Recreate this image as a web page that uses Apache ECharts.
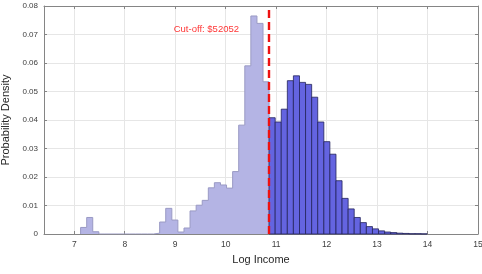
<!DOCTYPE html>
<html>
<head>
<meta charset="utf-8">
<script src="https://cdn.jsdelivr.net/npm/echarts@6/dist/echarts.min.js"></script>
<style>
  html, body { margin: 0; padding: 0; background: #fff; }
  #chart { width: 482px; height: 274px; }
</style>
</head>
<body>
<div id="chart"></div>
<script>
// x tick values
var xTicks = [7, 8, 9, 10, 11, 12, 13, 14, 15];

// cut-off (log of $52052)
var cutoff = 10.86;
var cutoffText = "Cut-off: $52052";
var cutoffTextPos = [8.97, 0.0719];

// below cut-off: bin left edges and densities
var lowEdges = [7.125, 7.246, 7.366, 7.487, 7.607, 7.728, 7.848, 7.969, 8.089, 8.210,
  8.330, 8.451, 8.571, 8.692, 8.812, 8.933, 9.053, 9.174, 9.294, 9.415,
  9.535, 9.656, 9.776, 9.897, 10.017, 10.138, 10.258, 10.379, 10.499, 10.620,
  10.740];
var lowEnd = 10.86;
var lowDensity = [0.0023, 0.0058, 0.0008, 0, 0, 0, 0, 0, 0, 0,
  0, 0, 0.0003, 0.0042, 0.009, 0.0049, 0.0007, 0.0021, 0.0081, 0.0101,
  0.0118, 0.0162, 0.018, 0.0172, 0.0161, 0.0219, 0.0382, 0.059, 0.0765, 0.0739,
  0.0534];

// above cut-off: bin left edges and densities
var highEdges = [10.860, 10.981, 11.101, 11.222, 11.342, 11.463, 11.583, 11.704, 11.824, 11.945,
  12.065, 12.186, 12.306, 12.427, 12.547, 12.668, 12.788, 12.909, 13.029, 13.150,
  13.270, 13.391, 13.511, 13.632, 13.752, 13.873];
var highEnd = 13.993;
var highDensity = [0.0408, 0.0393, 0.0438, 0.0538, 0.0555, 0.0532, 0.0525, 0.048, 0.0393, 0.0324,
  0.028, 0.0187, 0.0125, 0.0088, 0.0058, 0.004, 0.0026, 0.0018, 0.0011, 0.0007,
  0.0005, 0.0003, 0.0002, 0.0001, 0.0001, 0.00005];

// step outline for the low part
var lowLine = [[lowEdges[0], 0]];
for (var i = 0; i < lowEdges.length; i++) {
  lowLine.push([lowEdges[i], lowDensity[i]]);
}
lowLine.push([lowEnd, 0]);

// rect data for the high part
var highBars = [];
for (var j = 0; j < highEdges.length; j++) {
  var right = j + 1 < highEdges.length ? highEdges[j + 1] : highEnd;
  highBars.push([highEdges[j], right, highDensity[j]]);
}

var font = "Liberation Sans";
var axisColor = "#858585";
var textColor = "#404040";

var myChart = echarts.init(document.getElementById("chart"));

function xAxisCfg(pos, showLabel) {
  return {
    type: "value",
    position: pos,
    min: 6.4,
    max: 15,
    name: showLabel ? "Log Income" : "",
    nameLocation: "middle",
    nameGap: 20,
    nameTextStyle: { color: "#262626", fontSize: 11, fontFamily: font },
    axisLine: { show: true, onZero: false, lineStyle: { color: axisColor, width: 1 } },
    axisTick: { show: true, inside: true, length: 3, customValues: xTicks, lineStyle: { color: axisColor } },
    axisLabel: { show: showLabel, customValues: xTicks, color: textColor, fontSize: 8.5, fontFamily: font, margin: 6 },
    splitLine: { show: showLabel, lineStyle: { color: "#e6e6e6", width: 1 } }
  };
}

function yAxisCfg(pos, showLabel) {
  return {
    type: "value",
    position: pos,
    min: 0,
    max: 0.08,
    interval: 0.01,
    name: showLabel ? "Probability Density" : "",
    nameLocation: "middle",
    nameGap: 28,
    nameTextStyle: { color: "#262626", fontSize: 11, fontFamily: font },
    axisLine: { show: true, lineStyle: { color: axisColor, width: 1 } },
    axisTick: { show: true, inside: true, length: 3, lineStyle: { color: axisColor } },
    axisLabel: { show: showLabel, color: textColor, fontSize: 8, fontFamily: font, margin: 6 },
    splitLine: { show: showLabel, lineStyle: { color: "#e6e6e6", width: 1 } }
  };
}

var option = {
  backgroundColor: "#fff",
  animation: false,
  grid: { left: 44, right: 4, top: 6, bottom: 40, containLabel: false, outerBoundsMode: "none" },
  xAxis: [xAxisCfg("bottom", true), xAxisCfg("top", false)],
  yAxis: [yAxisCfg("left", true), yAxisCfg("right", false)],
  series: [
    {
      name: "below",
      type: "line",
      step: "end",
      symbol: "none",
      z: 2,
      lineStyle: { color: "#9a9ac4", width: 1 },
      areaStyle: { color: "#b4b4e4", opacity: 1 },
      data: lowLine
    },
    {
      name: "above",
      type: "custom",
      z: 3,
      renderItem: function (params, api) {
        var p0 = api.coord([api.value(0), api.value(2)]);
        var p1 = api.coord([api.value(1), 0]);
        return {
          type: "rect",
          shape: { x: p0[0], y: p0[1], width: p1[0] - p0[0], height: p1[1] - p0[1] },
          style: { fill: "#6464e0", stroke: "#23235a", lineWidth: 0.8 }
        };
      },
      encode: { x: [0, 1], y: 2 },
      data: highBars
    },
    {
      name: "cutoff",
      type: "scatter",
      symbolSize: 0,
      z: 6,
      data: [cutoffTextPos],
      label: {
        show: true,
        position: "right",
        distance: 0,
        formatter: cutoffText,
        color: "#ff0000",
        fontSize: 9.5,
        fontFamily: font
      },
      markLine: {
        silent: true,
        symbol: "none",
        label: { show: false },
        lineStyle: { color: "#ee1111", width: 2.4, type: [8, 4] },
        data: [{ xAxis: cutoff }]
      }
    }
  ]
};

myChart.setOption(option);
</script>
</body>
</html>
